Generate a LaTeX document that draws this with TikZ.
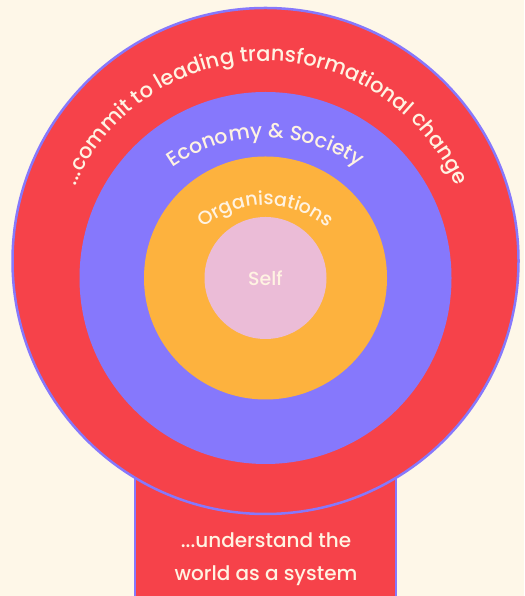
\documentclass[tikz,border=0pt]{standalone}
\usepackage{fontspec}
\setmainfont{Poppins Medium}
\usetikzlibrary{decorations.text}
\definecolor{bgc}{HTML}{FEF7E8}
\definecolor{redc}{HTML}{F6424A}
\definecolor{purc}{HTML}{8678FC}
\definecolor{orac}{HTML}{FDB23E}
\definecolor{pinkc}{HTML}{EBBCD7}
\definecolor{txtc}{HTML}{FFF3E2}
\begin{document}
\begin{tikzpicture}[x=1pt,y=1pt,
  ring/.style={circle, inner sep=0pt, minimum size=#1},
  lbl/.style={text=txtc, font=\fontsize{20}{20}\selectfont, inner sep=0pt}]
\useasboundingbox (0,0) rectangle (524,596);
\fill[bgc] (0,0) rectangle (524,596);
\begin{scope}
\clip (0,0) rectangle (524,596);
\fill[redc] (135,-10) rectangle (396,130);
\draw[purc, line width=2pt] (135,-10) -- (135,130) (396,-10) -- (396,130);
\end{scope}
\node[ring=506pt, fill=redc, draw=purc, line width=2.5pt] (outer) at (265.5,335) {};
\node[ring=372pt, fill=purc] (econ) at (265.5,318) {};
\node[ring=243pt, fill=orac] (org) at (265.5,318) {};
\node[ring=122pt, fill=pinkc] (self) at (265.5,318) {};
\node[lbl, font=\fontsize{19}{19}\selectfont] at (self) {Self};
\path[decorate, decoration={text along path, text align=center,
  text={|\color{txtc}\fontsize{21}{21}\selectfont|...commit to leading transformational change}}]
  (265.5,328) ++(162:207) arc[start angle=162, end angle=18, radius=207];
\path[decorate, decoration={text along path, text align=center,
  text={|\color{txtc}\fontsize{20.5}{20.5}\selectfont|Economy {\&} Society}}]
  (265.5,296) ++(140:162) arc[start angle=140, end angle=40, radius=162];
\path[decorate, decoration={text along path, text align=center,
  text={|\color{txtc}\fontsize{19}{19}\selectfont|Organisations}}]
  (265.5,296) ++(150:95) arc[start angle=150, end angle=30, radius=95];
\node[lbl, anchor=base] (bot1) at (266,48) {...understand the};
\node[lbl, anchor=base] (bot2) at (266,16) {world as a system};
\end{tikzpicture}
\end{document}
